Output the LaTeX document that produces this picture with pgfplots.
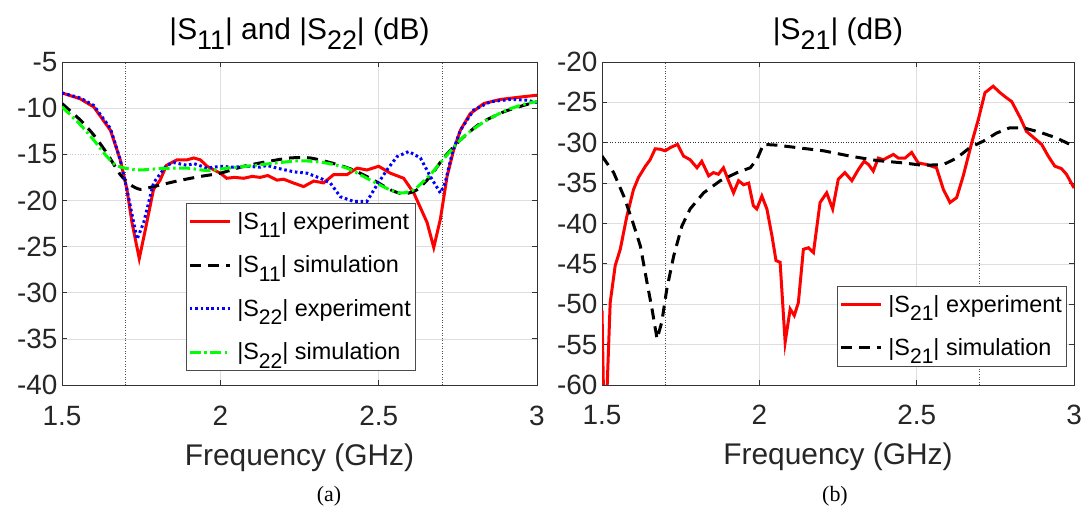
\documentclass[border=0pt]{standalone}
\usepackage{fontspec}
\setmainfont{Liberation Sans}
\newfontfamily\serif{Liberation Serif}
\usepackage{pgfplots}
\pgfplotsset{compat=1.18}
\newcommand{\sub}[1]{\raisebox{-0.36em}{\scalebox{0.9}{#1}}}
\pgfplotsset{
  legend image code/.code={\draw[#1] (0bp,0bp) -- (40bp,0bp); \path (44bp,0bp);},
  sparam/.style={
    scale only axis, height=323bp,
    xmin=1.5, xmax=3, xtick={1.5,2,2.5,3}, xticklabels={1.5,2,2.5,3},
    grid=major, grid style={black!13, line width=0.6bp},
    axis line style={black!80, line width=0.8bp},
    tick style={black!80, line width=0.8bp}, major tick length=5bp,
    ticklabel style={font=\fontsize{28}{30}\selectfont, text=black!85},
    xticklabel style={anchor=base, yshift=-40bp},
    yticklabel style={xshift=-1bp},
    extra x ticks={1.7,2.7}, extra x tick labels={},
    extra x tick style={major tick length=0pt, grid style={black!70, dotted, line width=0.8bp}},
    xlabel={Frequency (GHz)},
    xlabel style={at={(axis description cs:0.5,0)}, anchor=base, yshift=-80bp,
      font=\fontsize{30}{32}\selectfont, text=black!85},
    title style={at={(axis description cs:0.5,1)}, anchor=base, yshift=17bp,
      font=\fontsize{30}{32}\selectfont},
    legend style={draw=black!70, line width=0.6bp, font=\fontsize{23.5}{25}\selectfont,
      cells={anchor=west}, row sep=21bp, inner xsep=2bp, inner ysep=7bp},
    legend cell align=left,
  },
  exp/.style={red, line width=3bp},
  sim/.style={black, line width=3bp, dash pattern=on 11bp off 7bp},
  exptwo/.style={blue, line width=3bp, dash pattern=on 2.6bp off 2.8bp},
  simtwo/.style={green, line width=3bp, dash pattern=on 11bp off 3.5bp on 2.5bp off 3.5bp},
}
\begin{document}
\begin{tikzpicture}
\path[use as bounding box] (0,0) rectangle (1089bp,506bp);

\begin{axis}[sparam, at={(62bp,121bp)}, anchor=south west, width=475bp,
  ymin=-40, ymax=-5,
  ytick={-40,-35,-30,-25,-20,-10,-5}, yticklabels={-40,-35,-30,-25,-20,-10,-5},
  extra y ticks={-15}, extra y tick labels={-15},
  extra y tick style={grid style={black!22, dotted, line width=0.8bp}},
  title={|S\sub{11}| and |S\sub{22}| (dB)},
  legend style={at={(0.261,0.563)}, anchor=north west},
]
\addplot[exp] coordinates {
(1.5,-8.35)(1.558,-9.0)(1.6,-9.86)(1.653,-12.4)(1.684,-15.6)(1.705,-18.8)
(1.721,-22.4)(1.744,-26.3)(1.763,-23.2)(1.789,-18.8)(1.81,-17.8)(1.83,-16.2)
(1.863,-15.6)(1.895,-15.6)(1.916,-15.4)(1.937,-15.6)(1.958,-16.3)(2.0,-17.05)
(2.02,-17.6)(2.045,-17.5)(2.074,-17.6)(2.1,-17.4)(2.126,-17.5)(2.15,-17.3)
(2.179,-17.8)(2.2,-17.7)(2.23,-18.1)(2.263,-18.5)(2.295,-17.9)(2.326,-18.1)
(2.358,-17.2)(2.4,-17.2)(2.432,-16.5)(2.463,-16.7)(2.5,-16.3)(2.537,-17.05)
(2.579,-17.6)(2.611,-19.2)(2.653,-22.4)(2.674,-25.1)(2.695,-22.0)(2.716,-17.4)
(2.737,-14.5)(2.758,-12.4)(2.789,-10.6)(2.832,-9.5)(2.884,-9.06)(2.947,-8.8)(3.0,-8.6)};
\addlegendentry{|S\sub{11}| experiment}
\addplot[sim, smooth, tension=0.4] coordinates {
(1.5,-9.5)(1.558,-11.3)(1.6,-12.9)(1.642,-14.9)(1.684,-17.2)(1.716,-18.3)
(1.747,-18.8)(1.789,-18.5)(1.863,-17.9)(1.937,-17.4)(2.0,-17.05)(2.074,-16.3)
(2.147,-15.8)(2.22,-15.4)(2.284,-15.4)(2.358,-16.0)(2.42,-16.7)(2.484,-17.8)
(2.537,-18.85)(2.579,-19.3)(2.621,-18.85)(2.663,-17.4)(2.705,-15.4)(2.758,-13.45)
(2.821,-11.65)(2.895,-10.4)(2.958,-9.7)(3.0,-9.3)};
\addlegendentry{|S\sub{11}| simulation}
\addplot[exptwo] coordinates {
(1.5,-8.35)(1.558,-8.9)(1.6,-9.7)(1.653,-12.2)(1.684,-15.6)(1.705,-18.8)
(1.737,-24.2)(1.758,-22.4)(1.789,-18.1)(1.83,-16.2)(1.853,-15.9)(1.895,-16.2)
(1.916,-16.0)(1.958,-16.5)(2.0,-16.3)(2.042,-16.4)(2.084,-16.3)(2.126,-16.4)
(2.147,-16.2)(2.179,-16.5)(2.232,-16.9)(2.274,-17.05)(2.316,-17.6)(2.347,-18.1)
(2.379,-19.6)(2.42,-20.1)(2.463,-20.1)(2.495,-18.3)(2.526,-16.7)(2.558,-15.25)
(2.595,-14.7)(2.632,-15.4)(2.663,-17.4)(2.695,-19.2)(2.71,-18.1)(2.732,-14.9)
(2.758,-12.4)(2.8,-10.2)(2.853,-9.3)(2.916,-9.06)(2.968,-9.14)(3.0,-9.4)};
\addlegendentry{|S\sub{22}| experiment}
\addplot[simtwo, smooth, tension=0.4] coordinates {
(1.5,-9.86)(1.558,-11.8)(1.6,-13.45)(1.642,-15.25)(1.674,-16.26)(1.737,-16.7)
(1.81,-16.55)(1.895,-16.5)(1.958,-16.76)(2.021,-16.5)(2.095,-16.26)(2.168,-15.97)
(2.253,-15.7)(2.326,-15.9)(2.4,-16.5)(2.474,-17.8)(2.526,-18.7)(2.568,-19.2)
(2.611,-18.85)(2.663,-17.2)(2.716,-15.07)(2.768,-13.1)(2.832,-11.5)(2.905,-10.2)
(2.968,-9.5)(3.0,-9.3)};
\addlegendentry{|S\sub{22}| simulation}
\end{axis}

\begin{axis}[sparam, at={(602bp,121bp)}, anchor=south west, width=472bp,
  ymin=-60, ymax=-20,
  ytick={-60,-55,-50,-45,-40,-35,-25,-20}, yticklabels={-60,-55,-50,-45,-40,-35,-25,-20},
  extra y ticks={-30}, extra y tick labels={-30},
  extra y tick style={grid style={black!80, dotted, line width=0.8bp}},
  title={|S\sub{21}| (dB)},
  legend style={at={(0.498,0.307)}, anchor=north west},
]
\addplot[exp] coordinates {
(1.5,-50.8)(1.507,-66)(1.511,-66)(1.526,-49.8)(1.542,-45.2)(1.558,-43.2)
(1.579,-39.1)(1.6,-35.8)(1.616,-34.3)(1.638,-32.9)(1.653,-32.1)(1.669,-30.75)
(1.685,-30.8)(1.701,-31.0)(1.717,-30.6)(1.74,-30.2)(1.759,-31.65)(1.78,-32.1)
(1.802,-33.1)(1.817,-32.3)(1.839,-34.1)(1.854,-33.7)(1.87,-33.9)(1.886,-33.1)
(1.902,-34.7)(1.918,-36.2)(1.934,-34.7)(1.95,-35.2)(1.966,-35.0)(1.981,-37.8)
(1.992,-38.2)(2.008,-36.6)(2.024,-38.2)(2.04,-41.5)(2.053,-44.6)(2.066,-44.8)
(2.082,-54.7)(2.098,-50.6)(2.111,-51.4)(2.124,-49.8)(2.14,-43.2)(2.156,-43.0)
(2.172,-43.6)(2.193,-37.4)(2.214,-36.2)(2.233,-38.2)(2.251,-34.5)(2.272,-33.7)
(2.294,-34.7)(2.315,-33.3)(2.333,-32.3)(2.347,-32.7)(2.362,-33.5)(2.378,-31.9)
(2.394,-32.1)(2.426,-31.45)(2.442,-31.9)(2.463,-31.9)(2.484,-31.2)(2.505,-32.5)
(2.532,-32.7)(2.563,-33.1)(2.585,-35.8)(2.606,-37.4)(2.627,-36.8)(2.648,-34.1)
(2.675,-30.0)(2.696,-27.1)(2.717,-23.8)(2.743,-23.0)(2.765,-23.8)(2.786,-24.45)
(2.802,-24.9)(2.829,-26.9)(2.849,-28.6)(2.87,-29.3)(2.897,-30.2)(2.918,-31.65)
(2.939,-32.9)(2.96,-33.2)(2.976,-33.9)(3.0,-35.6)};
\addlegendentry{|S\sub{21}| experiment}
\addplot[sim] coordinates {
(1.5,-31.65)(1.537,-33.7)(1.569,-36.6)(1.595,-39.5)(1.622,-42.8)(1.643,-47.3)
(1.659,-50.6)(1.675,-54.3)(1.69,-52.2)(1.706,-48.1)(1.728,-44.0)(1.754,-40.3)
(1.78,-38.2)(1.823,-36.2)(1.876,-34.7)(1.929,-33.7)(1.971,-33.1)(1.992,-32.1)
(2.013,-30.2)(2.056,-30.3)(2.119,-30.6)(2.204,-31.0)(2.288,-31.65)(2.373,-32.2)
(2.458,-32.5)(2.521,-32.8)(2.585,-32.7)(2.627,-31.9)(2.669,-30.6)(2.712,-29.8)
(2.754,-28.8)(2.796,-28.15)(2.839,-28.15)(2.892,-28.7)(2.944,-29.4)(2.987,-30.2)(3.0,-30.4)};
\addlegendentry{|S\sub{21}| simulation}
\end{axis}

\node[anchor=base, font=\serif\fontsize{22}{24}\selectfont] at (329bp,5bp) {(a)};
\node[anchor=base, font=\serif\fontsize{22}{24}\selectfont] at (835bp,5bp) {(b)};
\end{tikzpicture}
\end{document}
